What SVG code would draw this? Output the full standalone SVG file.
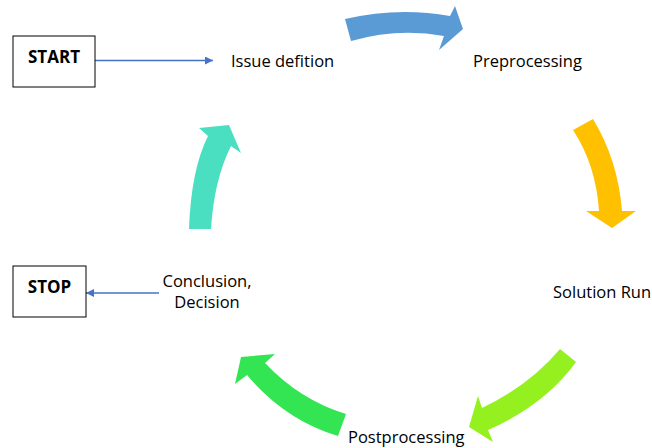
<svg xmlns="http://www.w3.org/2000/svg" width="652" height="448" viewBox="0 0 652 448">
<defs>
<style>
.box{fill:#fff;stroke:#000;stroke-width:1}
.t{font-family:"Open Sans","Noto Sans",sans-serif;font-size:16.5px;fill:#000}
.b{font-family:"Open Sans","Noto Sans",sans-serif;font-size:17px;font-weight:bold;fill:#000;text-anchor:middle}
.ln{stroke:#4472C4;stroke-width:1.3;fill:none}
</style>
<marker id="ah" viewBox="0 0 10 10" refX="10" refY="5" markerWidth="10" markerHeight="8" markerUnits="userSpaceOnUse" orient="auto">
<path d="M0,0 L10,5 L0,10 Z" fill="#4472C4"/>
</marker>
</defs>
<rect width="652" height="448" fill="#fff"/>
<g id="connectors">
<line class="ln" x1="95" y1="60.5" x2="213" y2="60.5" marker-end="url(#ah)"/>
<line class="ln" x1="159" y1="293" x2="86" y2="293" marker-end="url(#ah)"/>
<path id="arrow-blue" fill="#5B9BD5" d="M345,19 Q398,6.5 450,16 L455,6 L463,29 L439,50 L444,36 Q398,27.5 351,41 Z"/>
<path id="arrow-yellow" fill="#FFC000" d="M573,130 Q596,165 599,211 L586,211 L612,228 L636,211 L622,211 Q618,160 593,119 Z"/>
<path id="arrow-lime" fill="#95F01F" d="M560,349 Q530,385 482,408 L478,396 L469,427 L493,442 L488,430 Q545,405 576,362 Z"/>
<path id="arrow-green" fill="#33E552" d="M346,414 Q300,400 265,363 L275,354 L241,357 L235,384 L247,375 Q285,420 338,436 Z"/>
<path id="arrow-teal" fill="#4ADFC1" d="M189,229 Q191,170 208,136 L199,128 L229,125 L241,153 L231,146 Q214,180 211,229 Z"/>
</g>
<g id="start">
<rect class="box" x="13" y="36" width="82" height="51"/>
<text class="b" x="54" y="63">START</text>
</g>
<g id="stop">
<rect class="box" x="13" y="266" width="73" height="51"/>
<text class="b" x="49.5" y="293">STOP</text>
</g>
<g id="issue"><text class="t" x="231" y="66.5">Issue defition</text></g>
<g id="preprocessing"><text class="t" x="473" y="66.5">Preprocessing</text></g>
<g id="solution"><text class="t" x="553" y="298">Solution Run</text></g>
<g id="postprocessing"><text class="t" x="348" y="443">Postprocessing</text></g>
<g id="conclusion">
<text class="t" x="207" y="287" text-anchor="middle">Conclusion,</text>
<text class="t" x="207" y="308" text-anchor="middle">Decision</text>
</g>
</svg>
